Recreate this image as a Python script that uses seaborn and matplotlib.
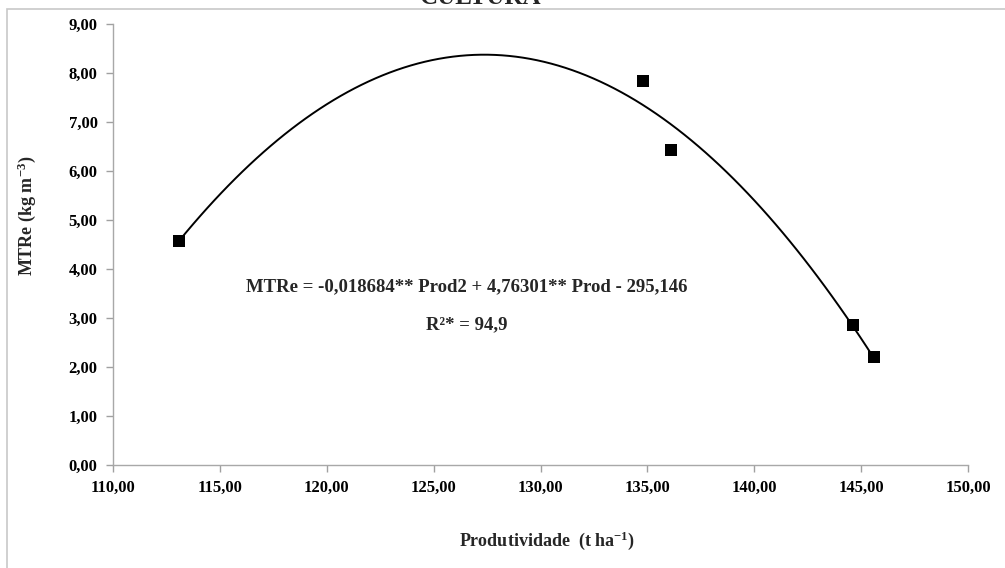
import matplotlib
matplotlib.use("Agg")
import matplotlib.pyplot as plt
import seaborn as sns
import pandas as pd
from matplotlib.patches import Rectangle

# data
produtividade = [113.1, 134.8, 136.1, 144.6, 145.6]
mtre = [4.57, 7.84, 6.42, 2.86, 2.21]
x_ticks = [110, 115, 120, 125, 130, 135, 140, 145, 150]
y_ticks = [0, 1, 2, 3, 4, 5, 6, 7, 8, 9]

df = pd.DataFrame({"prod": produtividade, "mtre": mtre})

sns.set_style("ticks")
plt.rcParams["font.family"] = ["Liberation Serif", "DejaVu Serif"]
plt.rcParams["font.weight"] = "bold"
plt.rcParams["mathtext.default"] = "regular"

fig = plt.figure(figsize=(10.05, 5.68), dpi=100)
ax = fig.add_axes([113 / 1005, 1 - 465 / 568, (968 - 113) / 1005, (465 - 24) / 568])

# quadratic trend line + points
sns.regplot(data=df, x="prod", y="mtre", order=2, ci=None, scatter=False,
            line_kws={"color": "black", "lw": 1.4}, ax=ax)
sns.scatterplot(data=df, x="prod", y="mtre", marker="s", s=70, color="black",
                edgecolor="black", linewidth=0, ax=ax, zorder=3)

ax.set_xlim(110, 150)
ax.set_ylim(0, 9)
ax.set_xticks(x_ticks)
ax.set_yticks(y_ticks)
fmt = lambda v: f"{v:.2f}".replace(".", ",")
ax.set_xticklabels([fmt(v) for v in x_ticks], fontsize=12, fontweight="bold")
ax.set_yticklabels([fmt(v) for v in y_ticks], fontsize=12, fontweight="bold")
ax.tick_params(colors="#a0a0a0", labelcolor="black", length=5, width=1, pad=6)
sns.despine(ax=ax)
for s in ["left", "bottom"]:
    ax.spines[s].set_color("#a8a8a8")
    ax.spines[s].set_linewidth(1)

ax.set_xlabel("")
ax.set_ylabel("")
fig.text(547 / 1005, 1 - 541 / 568, "Produtividade  (t ha$^{-1}$)",
         ha="center", va="center", fontsize=13, fontweight="bold")
fig.text(27 / 1005, 1 - 216 / 568, "MTRe (kg m$^{-3}$)", rotation=90,
         ha="center", va="center", fontsize=13, fontweight="bold")

fig.text(467 / 1005, 1 - 287 / 568,
         "MTRe = -0,018684** Prod2 + 4,76301** Prod - 295,146",
         ha="center", va="center", fontsize=13.5, fontweight="bold")
fig.text(467 / 1005, 1 - 325 / 568, "R\u00b2* = 94,9",
         ha="center", va="center", fontsize=13.5, fontweight="bold")

# chart title, cut off at top of the image
fig.text(480 / 1005, 1 - 4 / 568, "CULTURA", ha="center", va="baseline",
         fontsize=18, fontweight="bold")

# outer border of the chart area
fig.patches.append(Rectangle((7 / 1005, -0.1), 1.2, 1 - 9 / 568 + 0.1,
                             transform=fig.transFigure, fill=False,
                             edgecolor="#c8c8c8", lw=1.2))

fig.savefig("out.png", dpi=100)
